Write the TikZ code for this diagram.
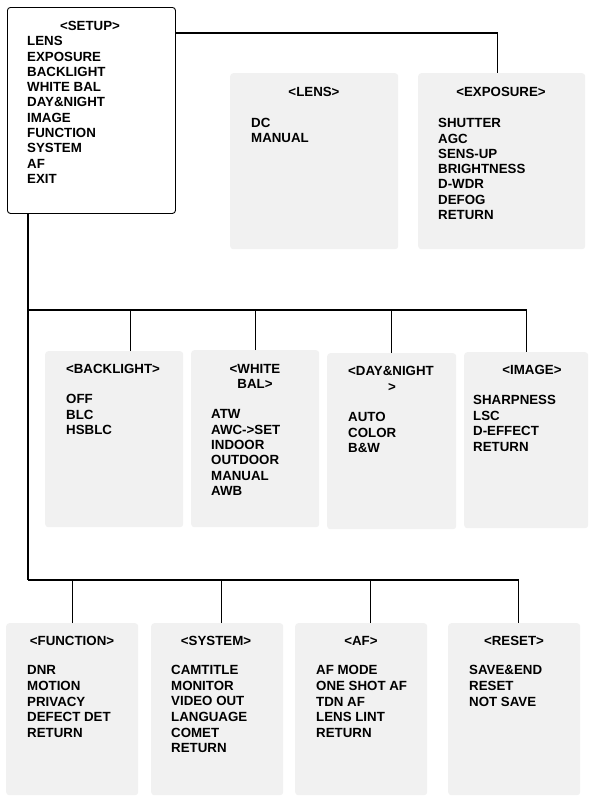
\documentclass[tikz,border=0pt]{standalone}
\usepackage{fontspec}
\setmainfont{Liberation Sans}
\definecolor{boxgray}{HTML}{F1F1F1}
\tikzset{
  menubox/.style={fill=boxgray, draw=none, rounded corners=3pt, anchor=north west, inner sep=0pt},
  setupbox/.style={fill=white, draw=black, line width=0.9pt, rounded corners=3pt, anchor=north west, inner sep=0pt},
  lbl/.style={font=\fontsize{13.3}{15}\selectfont\bfseries, inner sep=0pt, text=black},
  conn/.style={line width=1.1pt, draw=black}
}
\newcommand{\menuitems}[5]{%
  \foreach \t [count=\i] in {#5} {
    \node[lbl, anchor=base west] (#1-\i) at (#2, {#3+(\i-1)*#4}) {\t};
  }%
}
\begin{document}
\begin{tikzpicture}[x=1pt,y=-1pt]
\useasboundingbox (0,0) rectangle (589,796);

% boxes
\node[setupbox, minimum width=168pt, minimum height=206pt] (setup) at (7,7) {};
\node[menubox, minimum width=168pt, minimum height=176pt] (lens) at (230,73) {};
\node[menubox, minimum width=167pt, minimum height=176pt] (exposure) at (418,73) {};
\node[menubox, minimum width=138pt, minimum height=176pt] (backlight) at (45,351) {};
\node[menubox, minimum width=128pt, minimum height=177pt] (whitebal) at (191,350) {};
\node[menubox, minimum width=129pt, minimum height=176pt] (daynight) at (327,353) {};
\node[menubox, minimum width=124pt, minimum height=176pt] (image) at (464,352) {};
\node[menubox, minimum width=132pt, minimum height=172pt] (function) at (6,623) {};
\node[menubox, minimum width=132pt, minimum height=172pt] (system) at (151,623) {};
\node[menubox, minimum width=132pt, minimum height=172pt] (af) at (295,623) {};
\node[menubox, minimum width=132pt, minimum height=172pt] (reset) at (448,623) {};

% titles
\node[lbl, anchor=base] (setup-t) at (90,30.7) {<SETUP>};
\node[lbl, anchor=base] (lens-t) at (314,96.7) {<LENS>};
\node[lbl, anchor=base] (exposure-t) at (501,96.7) {<EXPOSURE>};
\node[lbl, anchor=base] (backlight-t) at (113,373.7) {<BACKLIGHT>};
\node[lbl, anchor=base] (whitebal-t1) at (255,373.7) {<WHITE};
\node[lbl, anchor=base] (whitebal-t2) at (255,388.7) {BAL>};
\node[lbl, anchor=base west] (daynight-t1) at (348,375.7) {<DAY\&NIGHT};
\node[lbl, anchor=base] (daynight-t2) at (392,391.5) {>};
\node[lbl, anchor=base] (image-t) at (532,374.7) {<IMAGE>};
\node[lbl, anchor=base] (function-t) at (72,645.7) {<FUNCTION>};
\node[lbl, anchor=base] (system-t) at (216,645.7) {<SYSTEM>};
\node[lbl, anchor=base] (af-t) at (361,645.7) {<AF>};
\node[lbl, anchor=base] (reset-t) at (514,645.7) {<RESET>};

% items
\menuitems{setupi}{27}{45.7}{15.3}{LENS,EXPOSURE,BACKLIGHT,WHITE BAL,DAY\&NIGHT,IMAGE,FUNCTION,SYSTEM,AF,EXIT}
\menuitems{lensi}{251}{127.7}{15}{DC,MANUAL}
\menuitems{exposurei}{438}{127.7}{15.3}{SHUTTER,AGC,SENS-UP,BRIGHTNESS,D-WDR,DEFOG,RETURN}
\menuitems{backlighti}{66}{403.7}{15.5}{OFF,BLC,HSBLC}
\menuitems{whitebali}{211}{418.7}{15.4}{ATW,AWC->SET,INDOOR,OUTDOOR,MANUAL,AWB}
\menuitems{daynighti}{348}{421.7}{15.5}{AUTO,COLOR,B\&W}
\menuitems{imagei}{473}{404.7}{15.5}{SHARPNESS,LSC,D-EFFECT,RETURN}
\menuitems{functioni}{27}{674.7}{15.7}{DNR,MOTION,PRIVACY,DEFECT DET,RETURN}
\menuitems{systemi}{171}{674.7}{15.6}{CAMTITLE,MONITOR,VIDEO OUT,LANGUAGE,COMET,RETURN}
\menuitems{afi}{316}{674.7}{15.7}{AF MODE,ONE SHOT AF,TDN AF,LENS LINT,RETURN}
\menuitems{reseti}{469}{674.7}{16}{SAVE\&END,RESET,NOT SAVE}

% connectors
\coordinate (topline) at (0,33);
\coordinate (row1) at (28,310);
\coordinate (row2) at (28,580);
\coordinate (expin) at ([xshift=-4pt]exposure.north);
\coordinate (resetin) at ([xshift=4pt]reset.north);
\draw[conn] (setup.east |- topline) -| (expin);
\draw[conn] (setup.south -| row1) -- (row2);
\draw[conn] (row1) -- (row1 -| image.north) -- (image.north);
\draw[conn] ([xshift=16pt]backlight.north) -- ([xshift=16pt]backlight.north |- row1);
\draw[conn] (whitebal.north) -- (whitebal.north |- row1);
\draw[conn] (daynight.north) -- (daynight.north |- row1);
\draw[conn] (row2) -- (row2 -| resetin) -- (resetin);
\draw[conn] (function.north) -- (function.north |- row2);
\draw[conn] ([xshift=4pt]system.north) -- ([xshift=4pt]system.north |- row2);
\draw[conn] ([xshift=9pt]af.north) -- ([xshift=9pt]af.north |- row2);
\end{tikzpicture}
\end{document}
